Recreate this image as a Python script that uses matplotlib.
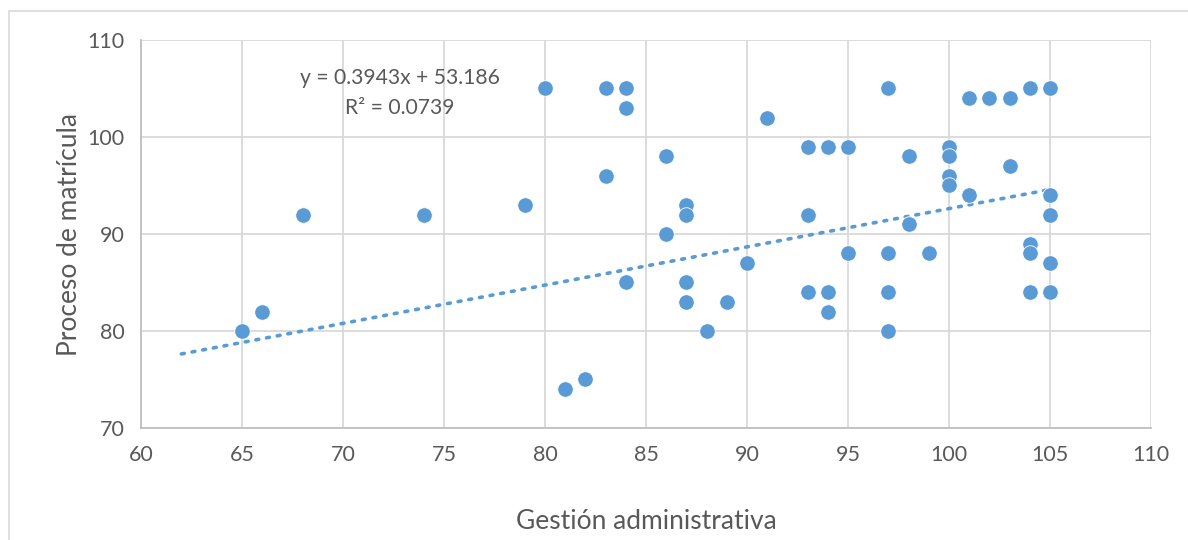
import matplotlib.pyplot as plt
import numpy as np
from matplotlib.patches import Rectangle

# Data
gestion = [65, 66, 68, 74, 79, 80, 81, 82, 83, 83, 84, 84, 84, 86, 86,
           87, 87, 87, 87, 88, 89, 90, 91, 93, 93, 93, 94, 94, 94, 95, 95,
           97, 97, 97, 97, 98, 98, 99, 100, 100, 100, 100, 101, 101, 102,
           103, 103, 104, 104, 104, 104, 105, 105, 105, 105, 105]
matricula = [80, 82, 92, 92, 93, 105, 74, 75, 105, 96, 105, 103, 85, 98, 90,
             93, 92, 85, 83, 80, 83, 87, 102, 99, 92, 84, 99, 84, 82, 99, 88,
             105, 88, 84, 80, 98, 91, 88, 99, 98, 96, 95, 104, 94, 104,
             104, 97, 105, 89, 88, 84, 105, 94, 92, 87, 84]

# Trendline as printed on the chart
slope = 0.3943
intercept = 53.186
trend_x = [62, 105]

blue = '#5B9BD5'
grey_text = '#595959'
grid_col = '#D9D9D9'

plt.rcParams['font.family'] = ['Lato', 'DejaVu Sans']

fig = plt.figure(figsize=(11.88, 5.40), dpi=100)
ax = fig.add_axes([141 / 1188, 1 - 428 / 540, 1010 / 1188, 388 / 540])

# chart border
fig.patches.append(Rectangle((8.5 / 1188, -0.1), 1.2, (540 - 11) / 540 + 0.1,
                             transform=fig.transFigure, fill=False,
                             edgecolor=grid_col, linewidth=1.2))

tx = np.array(trend_x)
ax.plot(tx, slope * tx + intercept, linestyle=(0, (0.8, 2.2)), color=blue,
        linewidth=2.6, dash_capstyle='round', zorder=2)
ax.scatter(gestion, matricula, s=125, color=blue, edgecolors='white',
           linewidths=0.6, zorder=3)

ax.set_xlim(60, 110)
ax.set_ylim(70, 110)
ax.set_xticks(range(60, 111, 5))
ax.set_yticks(range(70, 111, 10))
ax.grid(True, color=grid_col, linewidth=1.3)
ax.set_axisbelow(True)
for side in ['top', 'right']:
    ax.spines[side].set_visible(False)
for side in ['left', 'bottom']:
    ax.spines[side].set_color('#BFBFBF')
    ax.spines[side].set_linewidth(1.3)
ax.tick_params(length=0, labelsize=15.5, labelcolor=grey_text, pad=12)

ax.set_xlabel('Gestión administrativa', fontsize=19, color=grey_text, labelpad=32)
ax.set_ylabel('Proceso de matrícula', fontsize=19, color=grey_text, labelpad=4)

fig.text(400 / 1188, 1 - 78 / 540, 'y = 0.3943x + 53.186', fontsize=15.2,
         color=grey_text, ha='center', va='center')
fig.text(400 / 1188, 1 - 108 / 540, 'R² = 0.0739', fontsize=15.2,
         color=grey_text, ha='center', va='center')

fig.savefig('out.png', dpi=100)
